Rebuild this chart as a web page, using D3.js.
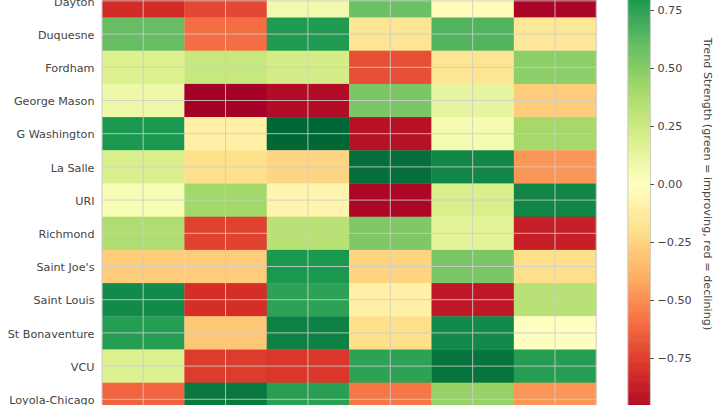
<!DOCTYPE html>
<html><head><meta charset="utf-8">
<script src="https://cdn.jsdelivr.net/npm/d3@7"></script>
<style>html,body{margin:0;padding:0;background:#fff;overflow:hidden}svg{display:block}text{font-family:"DejaVu Sans",sans-serif}</style>
</head><body><svg id="c" width="720" height="405"></svg>
<script>
const teams=["Dayton","Duquesne","Fordham","George Mason","G Washington","La Salle","URI","Richmond","Saint Joe's","Saint Louis","St Bonaventure","VCU","Loyola-Chicago"];
const periods=["P1","P2","P3","P4","P5","P6"];
const dayton=[-0.82,-0.72,0.07,0.58,-0.03,-0.98];
const duquesne=[0.60,-0.60,0.79,-0.17,0.65,-0.15];
const fordham=[0.18,0.27,0.22,-0.70,-0.17,0.48];
const georgeMason=[0.09,-1.00,-0.95,0.53,0.12,-0.28];
const gWashington=[0.80,-0.10,1.00,-0.93,0.05,0.40];
const laSalle=[0.20,-0.20,-0.24,0.97,0.87,-0.47];
const uri=[0.04,0.41,-0.07,-0.97,0.20,0.88];
const richmond=[0.36,-0.74,0.33,0.52,0.15,-0.87];
const saintJoes=[-0.28,-0.28,0.80,-0.25,0.53,-0.20];
const saintLouis=[0.86,-0.81,0.75,-0.10,-0.90,0.33];
const stBonaventure=[0.77,-0.30,0.90,-0.20,0.86,0.00];
const vcu=[0.18,-0.76,-0.78,0.75,0.95,0.77];
const loyola=[-0.63,0.93,0.76,-0.57,0.45,-0.47];
const matrix=[dayton,duquesne,fordham,georgeMason,gWashington,laSalle,uri,richmond,saintJoes,saintLouis,stBonaventure,vcu,loyola];
const barTicks=[0.75,0.5,0.25,0,-0.25,-0.5,-0.75];
const barLabel="Trend Strength (green = improving, red = declining)";

const palette=["#a50026","#d73027","#f46d43","#fdae61","#fee08b","#ffffbf","#d9ef8b","#a6d96a","#66bd63","#1a9850","#006837"];
const color=d3.scaleLinear().domain(d3.range(11).map(i=>-1+i*0.2)).range(palette).clamp(true);

const svg=d3.select("#c");
const x=d3.scaleBand().domain(periods).range([102,596.2]);
const y=d3.scaleBand().domain(teams).range([-15.7,-15.7+33.2*teams.length]);
const grey="#cccccc",ink="#444444";

const g=svg.append("g");
matrix.forEach((row,r)=>{
  g.selectAll(null).data(row).join("rect")
   .attr("x",(d,i)=>x(periods[i])).attr("y",y(teams[r]))
   .attr("width",x.bandwidth()+0.3).attr("height",y.bandwidth()+0.3)
   .attr("fill",d=>color(d));
});
const grid=svg.append("g").attr("stroke",grey).attr("stroke-width",1).attr("stroke-opacity",0.85);
grid.selectAll("line.v").data(periods).join("line").attr("class","v")
  .attr("x1",d=>x(d)+x.bandwidth()/2).attr("x2",d=>x(d)+x.bandwidth()/2).attr("y1",y.range()[0]).attr("y2",y.range()[1]);
grid.selectAll("line.h").data(teams).join("line").attr("class","h")
  .attr("y1",d=>y(d)+y.bandwidth()/2).attr("y2",d=>y(d)+y.bandwidth()/2).attr("x1",102).attr("x2",596.2);
svg.append("rect").attr("x",102).attr("y",y.range()[0]).attr("width",494.2).attr("height",y.range()[1]-y.range()[0])
  .attr("fill","none").attr("stroke",grey).attr("stroke-width",1);
svg.append("g").selectAll("text").data(teams).join("text")
  .attr("x",94.5).attr("y",d=>y(d)+y.bandwidth()/2+0.6).attr("dy","0.36em").attr("text-anchor","end")
  .attr("font-size",11.2).attr("fill",ink).text(d=>d);

const by=d3.scaleLinear().domain([-1,1]).range([416,-48]);
const bx=627.8,bw=22.6;
const steps=d3.range(256).map(i=>-1+2*i/255);
svg.append("g").selectAll("rect").data(steps).join("rect")
  .attr("x",bx).attr("width",bw).attr("y",d=>by(d)-1.2).attr("height",2.4).attr("fill",d=>color(d));
svg.append("rect").attr("x",bx).attr("y",by(1)).attr("width",bw).attr("height",by(-1)-by(1))
  .attr("fill","none").attr("stroke",grey).attr("stroke-width",1);
const axis=d3.axisRight(by).tickValues(barTicks).tickSize(3.5).tickPadding(3.5).tickFormat(d3.format(".2f"));
const ag=svg.append("g").attr("transform",`translate(${bx+bw},0)`).call(axis);
ag.select(".domain").remove();
ag.selectAll("line").attr("stroke",ink);
ag.selectAll("text").attr("font-size",11.2).attr("fill",ink).style("font-family",'"DejaVu Sans",sans-serif')
  .text(d=>d3.format(".2f")(d).replace("-","\u2212"));
svg.append("text").attr("transform","translate(703.5,184) rotate(90)").attr("text-anchor","middle")
  .attr("font-size",11.2).attr("fill",ink).text(barLabel);
</script></body></html>
